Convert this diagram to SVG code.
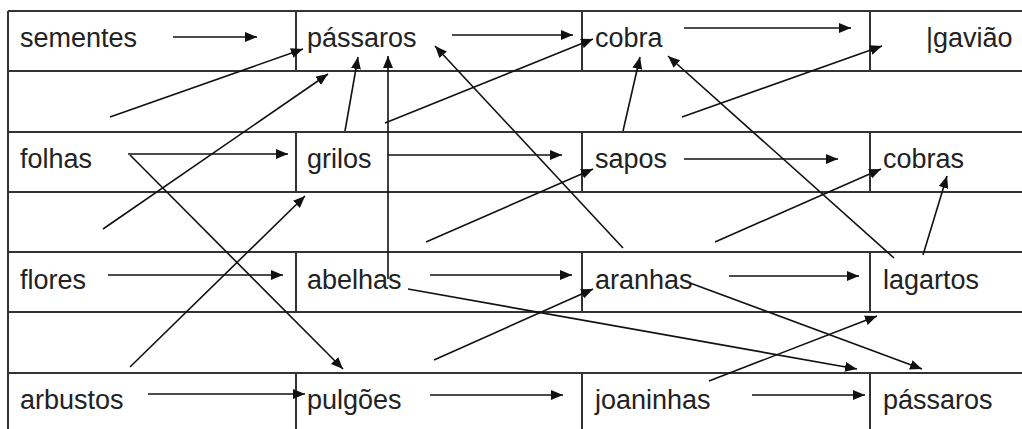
<svg xmlns="http://www.w3.org/2000/svg" width="1022" height="429" viewBox="0 0 1022 429">
  <defs>
    <marker id="head" markerUnits="userSpaceOnUse" markerWidth="13" markerHeight="10" refX="12" refY="5" orient="auto">
      <path d="M0,0 L12,5 L0,10 z" fill="#111"/>
    </marker>
    <style>
      .grid { stroke: #333; stroke-width: 2; fill: none; }
      .lbl { font-family: "Liberation Sans", Arial, sans-serif; font-size: 27px; fill: #222; }
      .arr { stroke: #111; stroke-width: 1.6; fill: none; marker-end: url(#head); }
    </style>
  </defs>
  <rect width="1022" height="429" fill="#fff"/>

  <!-- table grid -->
  <g id="grid" class="grid">
    <path d="M8,11 H1024 M8,71 H1024 M8,132 H1024 M8,192 H1024 M8,252 H1024 M8,312 H1024 M8,373 H1024"/>
    <path d="M8,11 V432"/>
    <path d="M296,11 V71 M582,11 V71 M870,11 V71"/>
    <path d="M296,132 V192 M582,132 V192 M870,132 V192"/>
    <path d="M296,252 V312 M582,252 V312 M870,252 V312"/>
    <path d="M296,373 V432 M582,373 V432 M870,373 V432"/>
  </g>

  <!-- row 1 -->
  <g id="sementes"><text class="lbl" x="20" y="47">sementes</text></g>
  <g id="passaros1"><text class="lbl" x="307" y="47">pássaros</text></g>
  <g id="cobra"><text class="lbl" x="595" y="47">cobra</text></g>
  <g id="gaviao"><text class="lbl" x="926" y="47">|gavião</text></g>

  <!-- row 2 -->
  <g id="folhas"><text class="lbl" x="20" y="168">folhas</text></g>
  <g id="grilos"><text class="lbl" x="307" y="168">grilos</text></g>
  <g id="sapos"><text class="lbl" x="595" y="168">sapos</text></g>
  <g id="cobras"><text class="lbl" x="883" y="168">cobras</text></g>

  <!-- row 3 -->
  <g id="flores"><text class="lbl" x="20" y="289">flores</text></g>
  <g id="abelhas"><text class="lbl" x="307" y="289">abelhas</text></g>
  <g id="aranhas"><text class="lbl" x="595" y="289">aranhas</text></g>
  <g id="lagartos"><text class="lbl" x="883" y="289">lagartos</text></g>

  <!-- row 4 -->
  <g id="arbustos"><text class="lbl" x="20" y="409">arbustos</text></g>
  <g id="pulgoes"><text class="lbl" x="307" y="409">pulgões</text></g>
  <g id="joaninhas"><text class="lbl" x="595" y="409">joaninhas</text></g>
  <g id="passaros2"><text class="lbl" x="883" y="409">pássaros</text></g>

  <!-- feeding arrows -->
  <g id="connectors">
    <!-- horizontal, along the rows -->
    <line class="arr" x1="173" y1="37" x2="257" y2="37"/>
    <line class="arr" x1="452" y1="35" x2="573" y2="35"/>
    <line class="arr" x1="684" y1="28" x2="851" y2="28"/>
    <line class="arr" x1="128" y1="154" x2="288" y2="154"/>
    <line class="arr" x1="388" y1="155" x2="562" y2="155"/>
    <line class="arr" x1="684" y1="159" x2="838" y2="159"/>
    <line class="arr" x1="108" y1="275" x2="283" y2="275"/>
    <line class="arr" x1="430" y1="275" x2="572" y2="275"/>
    <line class="arr" x1="729" y1="276" x2="859" y2="276"/>
    <line class="arr" x1="148" y1="394" x2="305" y2="394"/>
    <line class="arr" x1="430" y1="395" x2="563" y2="395"/>
    <line class="arr" x1="752" y1="395" x2="865" y2="395"/>

    <!-- crossing between rows -->
    <line class="arr" x1="110" y1="117" x2="303" y2="49"/>
    <line class="arr" x1="103" y1="229" x2="328" y2="74"/>
    <line class="arr" x1="345" y1="131" x2="358" y2="57"/>
    <line class="arr" x1="388" y1="279" x2="388" y2="56"/>
    <line class="arr" x1="385" y1="123" x2="593" y2="39"/>
    <line class="arr" x1="623" y1="248" x2="435" y2="46"/>
    <line class="arr" x1="623" y1="131" x2="640" y2="57"/>
    <line class="arr" x1="894" y1="258" x2="668" y2="56"/>
    <line class="arr" x1="682" y1="117" x2="882" y2="46"/>
    <line class="arr" x1="426" y1="242" x2="593" y2="169"/>
    <line class="arr" x1="715" y1="242" x2="881" y2="169"/>
    <line class="arr" x1="923" y1="255" x2="947" y2="176"/>
    <line class="arr" x1="130" y1="155" x2="343" y2="369"/>
    <line class="arr" x1="130" y1="367" x2="305" y2="196"/>
    <line class="arr" x1="408" y1="289" x2="857" y2="369"/>
    <line class="arr" x1="690" y1="283" x2="922" y2="369"/>
    <line class="arr" x1="434" y1="360" x2="593" y2="289"/>
    <line class="arr" x1="709" y1="381" x2="877" y2="316"/>
  </g>
</svg>
